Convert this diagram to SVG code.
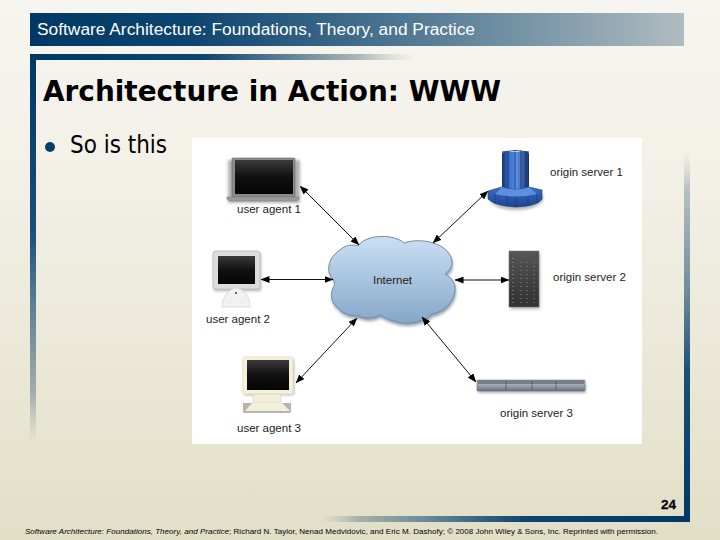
<svg xmlns="http://www.w3.org/2000/svg" width="720" height="540" viewBox="0 0 720 540">
<style>
.lab{font-family:"Liberation Sans",Arial,sans-serif;font-size:11.5px;fill:#1c1c1c}
.con{fill:none;stroke:#111;stroke-width:1;marker-start:url(#ah);marker-end:url(#ah)}
.shadow{fill:#555;opacity:.45;filter:url(#sh)}
</style>
<defs>
<linearGradient id="bg" x1="0" y1="0" x2="0" y2="1"><stop offset="0" stop-color="#f6f5ef"/><stop offset=".35" stop-color="#f2f0e6"/><stop offset="1" stop-color="#e2dfc7"/></linearGradient>
<linearGradient id="head" x1="0" y1="0" x2="1" y2="0"><stop offset="0" stop-color="#003865"/><stop offset=".25" stop-color="#0e4570"/><stop offset=".65" stop-color="#5f839b"/><stop offset="1" stop-color="#aebcc0"/></linearGradient>
<linearGradient id="top" x1="0" y1="0" x2="1" y2="0"><stop offset="0" stop-color="#003865"/><stop offset=".45" stop-color="#0e4570"/><stop offset=".7" stop-color="#6c8a9c"/><stop offset=".85" stop-color="#a8b5b5"/><stop offset="1" stop-color="#c8cec8" stop-opacity="0"/></linearGradient>
<linearGradient id="left" x1="0" y1="0" x2="0" y2="1"><stop offset="0" stop-color="#003865"/><stop offset=".45" stop-color="#1a4f78"/><stop offset=".65" stop-color="#5f8098"/><stop offset=".88" stop-color="#a8b0ae"/><stop offset="1" stop-color="#c0c4ba" stop-opacity="0"/></linearGradient>
<linearGradient id="right" x1="0" y1="1" x2="0" y2="0"><stop offset="0" stop-color="#003865"/><stop offset=".4" stop-color="#1a4f78"/><stop offset=".62" stop-color="#6f8a9c"/><stop offset=".9" stop-color="#b8c2c4"/><stop offset="1" stop-color="#d8dad4" stop-opacity="0"/></linearGradient>
<linearGradient id="bot" x1="1" y1="0" x2="0" y2="0"><stop offset="0" stop-color="#003865"/><stop offset=".45" stop-color="#0e4570"/><stop offset=".72" stop-color="#6c8a9c"/><stop offset=".9" stop-color="#a8b2aa"/><stop offset="1" stop-color="#c4c8b8" stop-opacity="0"/></linearGradient>
<linearGradient id="cloud" x1="0" y1="0" x2="0" y2="1"><stop offset="0" stop-color="#cbe0f4"/><stop offset="1" stop-color="#86a7c8"/></linearGradient>
<linearGradient id="scr" x1="0" y1="0" x2="0" y2="1"><stop offset="0" stop-color="#3a3a3a"/><stop offset=".5" stop-color="#111"/><stop offset="1" stop-color="#050505"/></linearGradient>
<linearGradient id="blue" x1="0" y1="0" x2="1" y2="0"><stop offset="0" stop-color="#17346f"/><stop offset=".3" stop-color="#3f74cf"/><stop offset=".55" stop-color="#5d8fe0"/><stop offset="1" stop-color="#17306a"/></linearGradient>
<linearGradient id="skirt" x1="0" y1="0" x2="0" y2="1"><stop offset="0" stop-color="#3c6cc4"/><stop offset="1" stop-color="#1d4390"/></linearGradient>
<linearGradient id="rack" x1="0" y1="0" x2="0" y2="1"><stop offset="0" stop-color="#565656"/><stop offset="1" stop-color="#303030"/></linearGradient>
<linearGradient id="slim" x1="0" y1="0" x2="0" y2="1"><stop offset="0" stop-color="#7d8690"/><stop offset=".35" stop-color="#aab3bc"/><stop offset="1" stop-color="#68727c"/></linearGradient>
<filter id="sh" x="-30%" y="-30%" width="160%" height="160%"><feGaussianBlur stdDeviation="1.5"/></filter>
<marker id="ah" viewBox="0 0 9 7" refX="8.5" refY="3.5" markerWidth="9" markerHeight="7" markerUnits="userSpaceOnUse" orient="auto-start-reverse"><path d="M0 0L9 3.5L0 7Z" fill="#000"/></marker>
<path id="cl" d="M340 250C345 245 352 244 358 246C363 238 378 235 390 237C396 238 401 240 404 243C411 240 425 240 433 243C444 246 452 254 452 262C452 268 449 271 445 274C452 277 456 284 455 291C454 302 444 312 432 314C425 322 408 325 397 322C390 320 384 318 380 315C373 319 365 319 358 316C350 316 341 313 337 307C331 303 330 294 333 288C335 285 335 282 333 279C326 273 327 258 340 250Z"/>
</defs>
<rect width="720" height="540" fill="url(#bg)"/>
<g id="frame">
<rect x="30" y="13" width="654" height="33" fill="url(#head)"/>
<rect x="30" y="54" width="385" height="6" fill="url(#top)"/>
<rect x="30" y="54" width="6" height="390" fill="url(#left)"/>
<rect x="684" y="150" width="6" height="372" fill="url(#right)"/>
<rect x="320" y="516" width="370" height="6" fill="url(#bot)"/>
</g>
<g id="slide-text">
<text x="37" y="35" font-family="Liberation Sans,Arial,sans-serif" font-size="16" fill="#fff" textLength="438" lengthAdjust="spacingAndGlyphs">Software Architecture: Foundations, Theory, and Practice</text>
<text x="43" y="101" font-family="DejaVu Sans,Verdana,sans-serif" font-weight="700" font-size="28" fill="#000" textLength="458" lengthAdjust="spacingAndGlyphs">Architecture in Action: WWW</text>
<circle cx="50" cy="147" r="5" fill="#0c3d68"/>
<text x="70" y="153" font-family="DejaVu Sans,Verdana,sans-serif" font-size="24" fill="#000" textLength="97" lengthAdjust="spacingAndGlyphs">So is this</text>
<text x="661" y="509" font-family="Liberation Sans,Arial,sans-serif" font-weight="700" font-size="13.5" fill="#000" stroke="#000" stroke-width=".3">24</text>
<text x="25" y="534" font-family="Liberation Sans,Arial,sans-serif" font-size="8" fill="#000" textLength="633" lengthAdjust="spacing"><tspan font-style="italic">Software Architecture: Foundations, Theory, and Practice</tspan>; Richard N. Taylor, Nenad Medvidovic, and Eric M. Dashofy; © 2008 John Wiley &amp; Sons, Inc. Reprinted with permission.</text>
</g>
<rect id="figure" x="192" y="138" width="450" height="306" fill="#fff"/>
<g id="internet">
<use href="#cl" fill="#4f687f" opacity=".6" filter="url(#sh)" transform="translate(1,3)"/>
<use href="#cl" fill="url(#cloud)" stroke="#6f8ca8" stroke-width="1"/>
<text class="lab" x="373" y="284">Internet</text>
</g>
<g id="connectors">
<line class="con" x1="300" y1="186" x2="359" y2="245"/>
<line class="con" x1="261" y1="279.5" x2="333" y2="279.5"/>
<line class="con" x1="296" y1="383" x2="357" y2="318"/>
<line class="con" x1="488" y1="191" x2="433" y2="243"/>
<line class="con" x1="455" y1="280" x2="509" y2="280"/>
<line class="con" x1="476" y1="382" x2="422" y2="317"/>
</g>
<g id="user-agent-1">
<rect class="shadow" x="228" y="160" width="72" height="43"/>
<rect x="232" y="158" width="63" height="39" rx="1" fill="#8b8b8b" stroke="#6a6a6a" stroke-width=".6"/>
<rect x="235" y="160" width="58" height="34" fill="url(#scr)"/>
<path d="M227 197H299L299 199Q298 201 295 201H231Q228 201 227 199Z" fill="#9a9a9a" stroke="#777" stroke-width=".5"/>
<text class="lab" x="237" y="213">user agent  1</text>
</g>
<g id="user-agent-2">
<rect class="shadow" x="214" y="253" width="47" height="38" opacity=".3"/>
<rect x="213" y="251" width="47" height="38" rx="3" fill="#dcdcdc" stroke="#c2c2c2"/>
<rect x="218" y="256" width="37" height="28" fill="url(#scr)"/>
<path d="M222 306C222 295 231 288 236 288C242 288 250 295 250 306Q250 307 248 307H224Q222 307 222 306Z" fill="#f1f1f1" stroke="#d4d4d4" stroke-width=".8"/>
<circle cx="236" cy="293" r="1" fill="#333"/>
<text class="lab" x="206" y="323">user agent 2</text>
</g>
<g id="user-agent-3">
<rect class="shadow" x="244" y="359" width="50" height="36" opacity=".3"/>
<rect x="243" y="357" width="50" height="37" rx="1.5" fill="#f5f0d8" stroke="#e2ddc4" stroke-width=".8"/>
<rect x="247" y="360" width="42" height="30" fill="url(#scr)"/>
<rect x="253" y="394" width="28" height="9" fill="#f3efdc" stroke="#cfcbb6" stroke-width=".6"/>
<path d="M243 403H291V412Q291 413 289 413H245Q243 413 243 412Z" fill="#b4b4b0"/>
<path d="M252 403H282L290 411H245Z" fill="#f3efdc"/>
<text class="lab" x="237" y="432">user agent 3</text>
</g>
<g id="origin-server-1">
<path class="shadow" d="M490 194H543V201Q535 210 516 210Q497 210 490 201Z"/>
<rect x="502" y="152" width="27" height="40" rx="2" fill="url(#blue)"/>
<path d="M502 152Q515 149 529 152" fill="none" stroke="#24467f"/>
<path d="M508 151V190M515 150V190M521 150V190M526 151V190" stroke="#123069" stroke-width=".7" fill="none"/>
<path d="M502 187Q515 192 529 187L542 190V199Q538 206 516 207Q495 206 488 199V191Z" fill="url(#skirt)" stroke="#173a7c" stroke-width=".6"/>
<path d="M502 187Q515 192 529 187L537 194Q516 199 495 194Z" fill="#5d8fe0"/>
<path d="M495 194V204M507 196V206M516 197V207M528 196V206M537 194V203" stroke="#173a7c" stroke-width=".6" fill="none"/>
<text class="lab" x="550" y="176">origin server 1</text>
</g>
<g id="origin-server-2">
<rect class="shadow" x="510" y="253" width="30" height="56"/>
<rect x="509" y="251" width="30" height="56" fill="url(#rack)" stroke="#777" stroke-width=".5"/>
<path d="M513 258V304" stroke="#b0a060" stroke-width="1" stroke-dasharray="1 3" fill="none"/>
<path d="M521 262V304M527 262V304M534 262V304" stroke="#888" stroke-width="1" stroke-dasharray="1 3" fill="none"/>
<text class="lab" x="553" y="281">origin server 2</text>
</g>
<g id="origin-server-3">
<rect class="shadow" x="478" y="383" width="108" height="10"/>
<rect x="477" y="380" width="108" height="11" rx="1" fill="url(#slim)" stroke="#5e6670" stroke-width=".5"/>
<rect x="478" y="381" width="106" height="3" fill="#757d86"/>
<path d="M506 381V390M532 381V390M556 381V390" stroke="#444" stroke-width=".6" fill="none"/>
<text class="lab" x="500" y="417">origin server 3</text>
</g>
</svg>
